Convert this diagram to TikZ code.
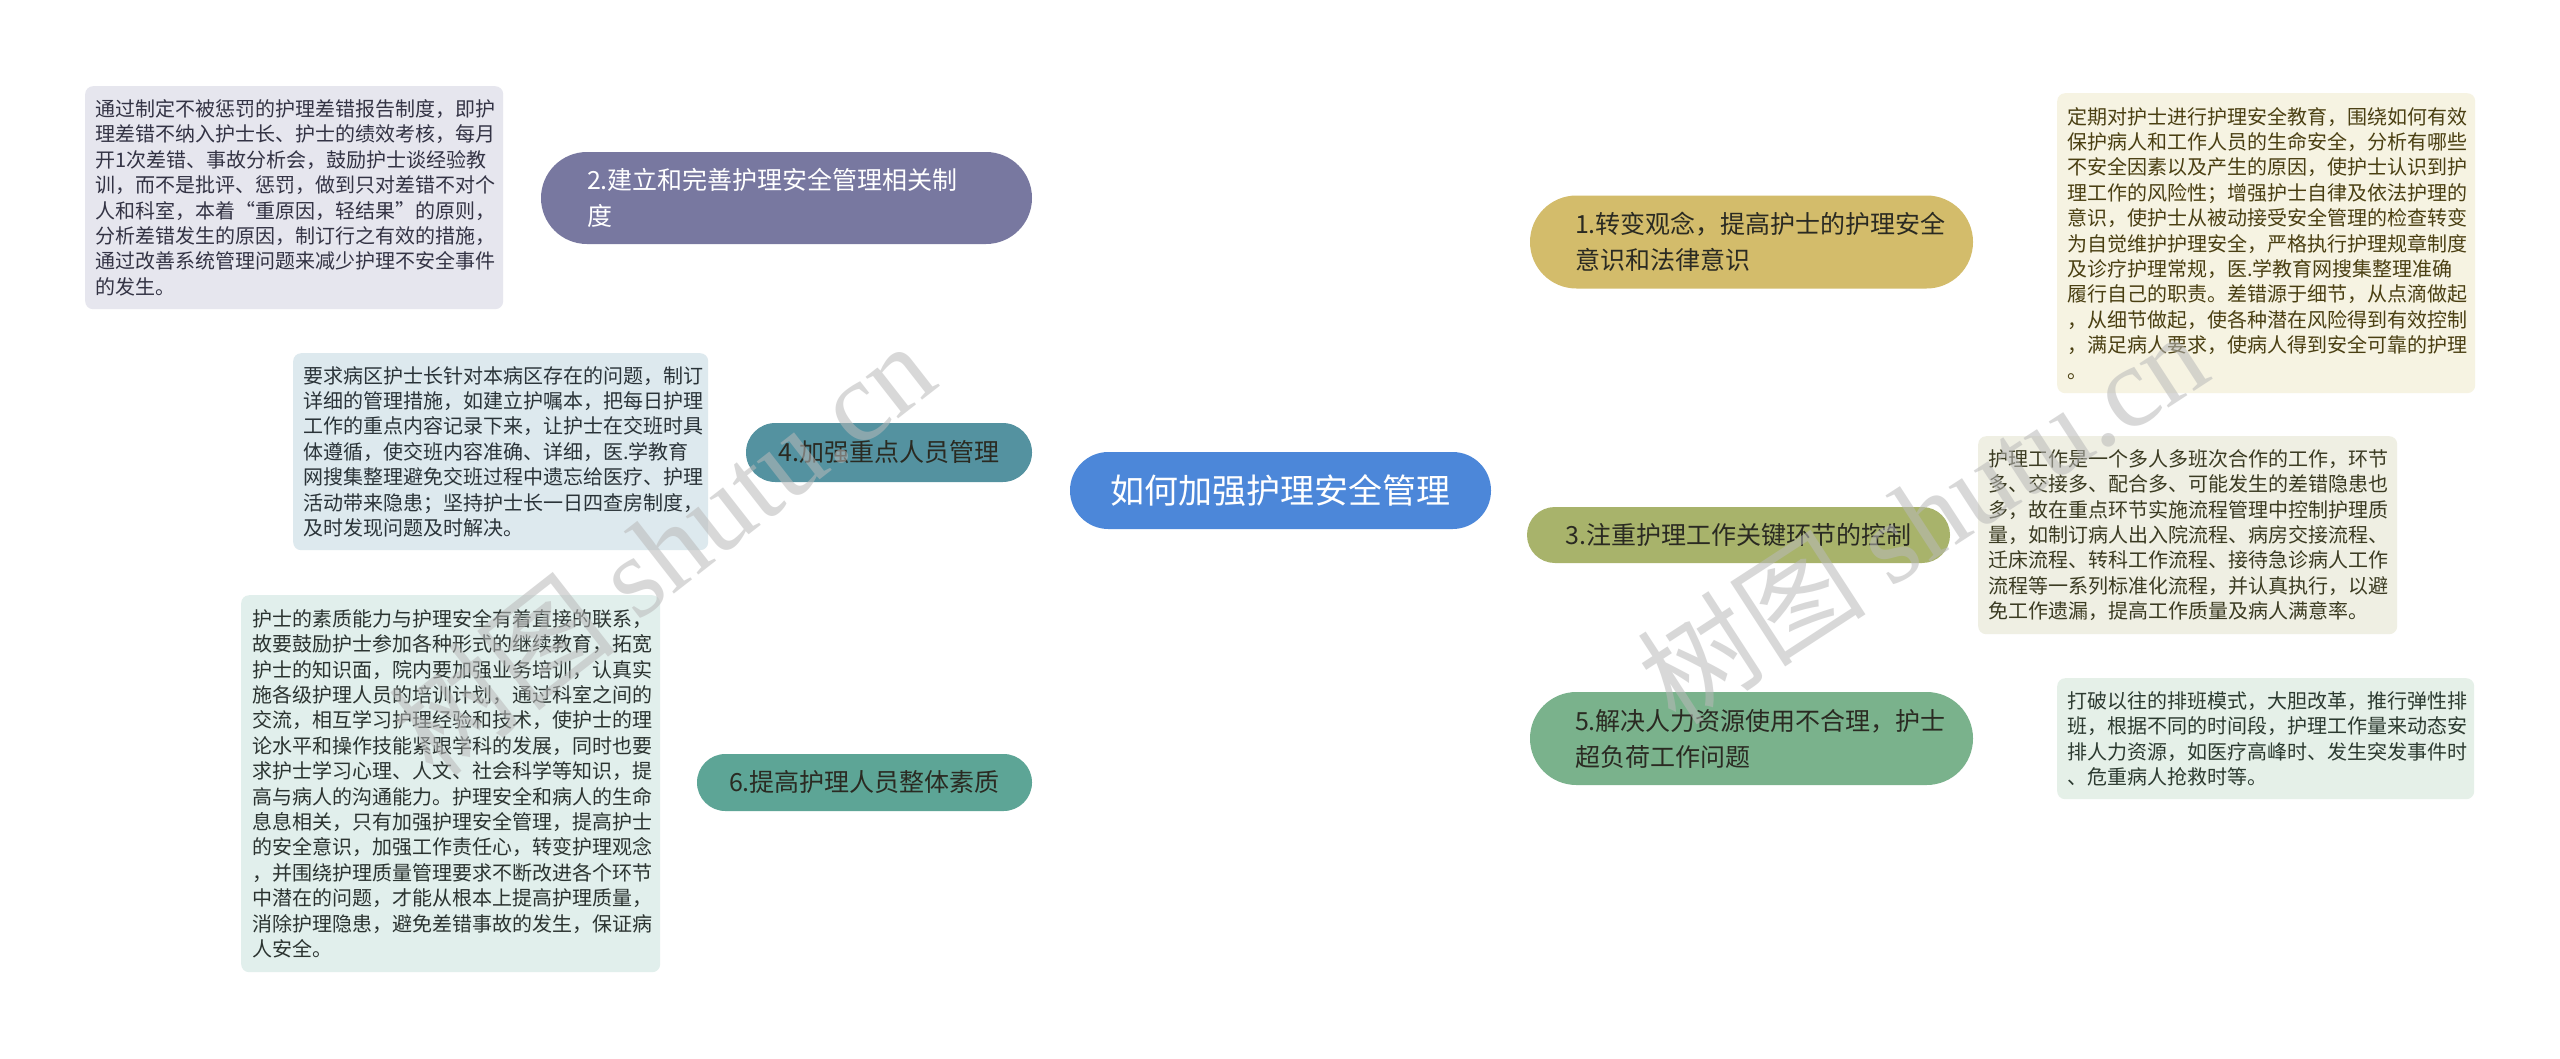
\documentclass[tikz,border=0pt]{standalone}
\usepackage{fontspec}
\setmainfont{Noto Sans CJK SC}
\newfontfamily\cjk{Noto Sans CJK SC}
\newfontfamily\wmserif{Liberation Serif}
\usetikzlibrary{backgrounds}
\definecolor{cCenter}{HTML}{4C87D9}
\definecolor{cTwo}{HTML}{7878A0}
\definecolor{cOne}{HTML}{D3BC6B}
\definecolor{cThree}{HTML}{A8B36B}
\definecolor{cFive}{HTML}{7AB28C}
\definecolor{cFour}{HTML}{5492A0}
\definecolor{cSix}{HTML}{5DA596}
\definecolor{fA}{HTML}{E6E6EE}
\definecolor{fB}{HTML}{DDE9EE}
\definecolor{fC}{HTML}{E1EFEC}
\definecolor{fD}{HTML}{F6F3E2}
\definecolor{fE}{HTML}{EFEFE3}
\definecolor{fF}{HTML}{E5F0E8}
\definecolor{tA}{HTML}{333344}
\definecolor{tB}{HTML}{2A3338}
\definecolor{tC}{HTML}{2B3330}
\definecolor{tD}{HTML}{4A3F12}
\definecolor{tE}{HTML}{3B3B22}
\definecolor{tF}{HTML}{2C3A30}
\definecolor{tDark}{HTML}{2A2A22}
\tikzset{
  conn/.style={line width=2.5pt},
  branchbox/.style={font=\fontsize{25}{36}\selectfont, inner ysep=0pt, text=tDark},
  leafbox/.style={rounded corners=8pt, anchor=north west, align=left,
    font=\fontsize{20}{25.4}\selectfont, inner ysep=0pt, inner xsep=10pt},
  wm/.style={text=gray!55, text opacity=0.55, font=\fontsize{115}{115}\selectfont}
}
\begin{document}
\begin{tikzpicture}[x=1pt,y=-1pt]
\useasboundingbox (0,0) rectangle (2560,1058);
\fill[white] (0,0) rectangle (2560,1058);

% central topic
\node[fill=cCenter, text=white, rounded corners=38.4pt, minimum width=421pt, minimum height=77pt,
  font=\fontsize{34}{40}\selectfont, inner sep=0pt] (ctr) at (1280.5,490.5) {如何加强护理安全管理};

% branches
\node[branchbox, fill=cTwo, text=white, rounded corners=46pt, minimum height=92pt,
  text width=399pt, inner xsep=46pt, align=left] (n2) at (786.5,198) {2.建立和完善护理安全管理相关制\\度};
\node[branchbox, fill=cOne, rounded corners=46.4pt, minimum height=93pt,
  text width=353pt, inner xsep=45pt, align=left] (n1) at (1751.5,242) {1.转变观念，提高护士的护理安全\\意识和法律意识};
\node[branchbox, fill=cThree, rounded corners=27.9pt, minimum width=423pt, minimum height=56pt,
  inner xsep=0pt] (n3) at (1738.5,535) {3.注重护理工作关键环节的控制};
\node[branchbox, fill=cFive, rounded corners=46.4pt, minimum height=93pt,
  text width=353pt, inner xsep=45pt, align=left] (n5) at (1751.5,738.5) {5.解决人力资源使用不合理，护士\\超负荷工作问题};
\node[branchbox, fill=cFour, rounded corners=29.4pt, minimum width=286pt, minimum height=59pt,
  inner xsep=0pt] (n4) at (889,452.5) {4.加强重点人员管理};
\node[branchbox, fill=cSix, rounded corners=28.4pt, minimum width=335pt, minimum height=57pt,
  inner xsep=0pt] (n6) at (864.5,782.5) {6.提高护理人员整体素质};

% leaf boxes
\node[leafbox, fill=fA, text=tA, minimum width=418pt, minimum height=223pt, text width=398pt] (bA) at (85,86)
{通过制定不被惩罚的护理差错报告制度，即护\\理差错不纳入护士长、护士的绩效考核，每月\\开1次差错、事故分析会，鼓励护士谈经验教\\训，而不是批评、惩罚，做到只对差错不对个\\人和科室，本着“重原因，轻结果”的原则，\\分析差错发生的原因，制订行之有效的措施，\\通过改善系统管理问题来减少护理不安全事件\\的发生。};
\node[leafbox, fill=fB, text=tB, minimum width=415pt, minimum height=197pt, text width=395pt] (bB) at (293,353)
{要求病区护士长针对本病区存在的问题，制订\\详细的管理措施，如建立护嘱本，把每日护理\\工作的重点内容记录下来，让护士在交班时具\\体遵循，使交班内容准确、详细，医.学教育\\网搜集整理避免交班过程中遗忘给医疗、护理\\活动带来隐患；坚持护士长一日四查房制度，\\及时发现问题及时解决。};
\node[leafbox, fill=fC, text=tC, minimum width=417pt, minimum height=377pt, text width=397pt, inner xsep=11pt] (bC) at (241,595)
{护士的素质能力与护理安全有着直接的联系，\\故要鼓励护士参加各种形式的继续教育，拓宽\\护士的知识面，院内要加强业务培训，认真实\\施各级护理人员的培训计划，通过科室之间的\\交流，相互学习护理经验和技术，使护士的理\\论水平和操作技能紧跟学科的发展，同时也要\\求护士学习心理、人文、社会科学等知识，提\\高与病人的沟通能力。护理安全和病人的生命\\息息相关，只有加强护理安全管理，提高护士\\的安全意识，加强工作责任心，转变护理观念\\，并围绕护理质量管理要求不断改进各个环节\\中潜在的问题，才能从根本上提高护理质量，\\消除护理隐患，避免差错事故的发生，保证病\\人安全。};
\node[leafbox, fill=fD, text=tD, minimum width=418pt, minimum height=300pt, text width=398pt] (bD) at (2057,93)
{定期对护士进行护理安全教育，围绕如何有效\\保护病人和工作人员的生命安全，分析有哪些\\不安全因素以及产生的原因，使护士认识到护\\理工作的风险性；增强护士自律及依法护理的\\意识，使护士从被动接受安全管理的检查转变\\为自觉维护护理安全，严格执行护理规章制度\\及诊疗护理常规，医.学教育网搜集整理准确\\履行自己的职责。差错源于细节，从点滴做起\\，从细节做起，使各种潜在风险得到有效控制\\，满足病人要求，使病人得到安全可靠的护理\\。};
\node[leafbox, fill=fE, text=tE, minimum width=419pt, minimum height=198pt, text width=399pt] (bE) at (1978,436)
{护理工作是一个多人多班次合作的工作，环节\\多、交接多、配合多、可能发生的差错隐患也\\多，故在重点环节实施流程管理中控制护理质\\量，如制订病人出入院流程、病房交接流程、\\迁床流程、转科工作流程、接待急诊病人工作\\流程等一系列标准化流程，并认真执行，以避\\免工作遗漏，提高工作质量及病人满意率。};
\node[leafbox, fill=fF, text=tF, minimum width=417pt, minimum height=121pt, text width=397pt] (bF) at (2057,678)
{打破以往的排班模式，大胆改革，推行弹性排\\班，根据不同的时间段，护理工作量来动态安\\排人力资源，如医疗高峰时、发生突发事件时\\、危重病人抢救时等。};

% connectors (behind)
\begin{scope}[on background layer]
\draw[conn, cTwo] (ctr.center) .. controls (ctr.center |- n2.east) .. (n2.east);
\draw[conn, cOne] (ctr.center) .. controls (ctr.center |- n1.west) .. (n1.west);
\draw[conn, cThree] (ctr.center) .. controls (ctr.center |- n3.west) .. (n3.west);
\draw[conn, cFive] (ctr.center) .. controls (ctr.center |- n5.west) .. (n5.west);
\draw[conn, cFour] (ctr.center) .. controls (ctr.center |- n4.east) .. (n4.east);
\draw[conn, cSix] (ctr.center) .. controls (ctr.center |- n6.east) .. (n6.east);
\draw[conn, cTwo] (n2.west) -- (bA.east);
\draw[conn, cFour] (n4.west) -- (bB.east);
\draw[conn, cSix] (n6.west) -- (bC.east);
\draw[conn, cOne] (n1.east) -- (bD.west);
\draw[conn, cThree] (n3.east) -- (bE.west);
\draw[conn, cFive] (n5.east) -- (bF.west);
\end{scope}

% watermarks
\node[wm, rotate=38] (wm1) at (662,548) {\cjk 树图 \wmserif shutu.cn};
\node[wm, rotate=33] (wm2) at (1922,516) {\cjk 树图 \wmserif shutu.cn};
\end{tikzpicture}
\end{document}
